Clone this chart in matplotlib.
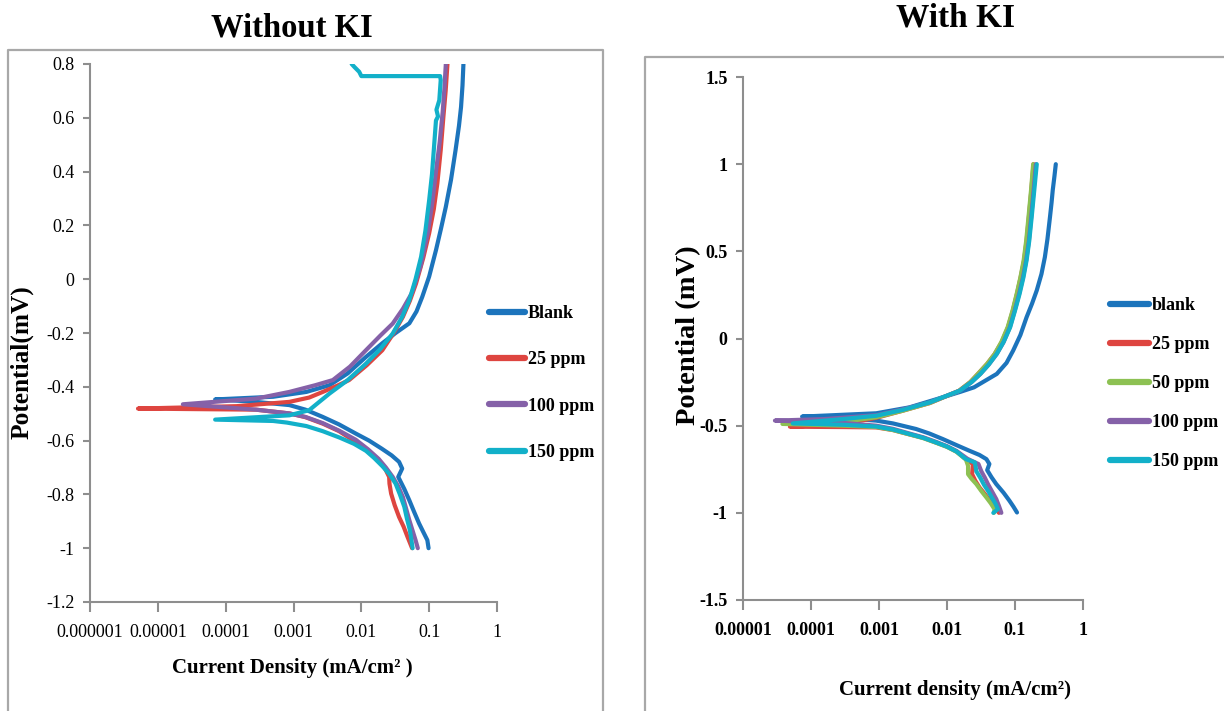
import numpy as np
import matplotlib
matplotlib.use("Agg")
import matplotlib.pyplot as plt
from matplotlib.lines import Line2D

# ---------------- data: Without KI (current mA/cm2, potential) ----------------
left_labels = ["Blank", "25 ppm", "100 ppm", "150 ppm"]

l_blank_i = [0.098, 0.094, 0.082, 0.071, 0.060, 0.051, 0.043, 0.035, 0.040, 0.036, 0.028, 0.020, 0.013, 0.0083,
             0.0047, 0.0027, 0.0015, 0.00087, 0.00025, 0.00007,
             0.0005, 0.00155, 0.0034, 0.0063, 0.0117, 0.0204, 0.032, 0.051, 0.065, 0.079, 0.100, 0.126, 0.150,
             0.176, 0.21, 0.245, 0.275, 0.295, 0.31, 0.32]
l_blank_E = [-1.0, -0.97, -0.94, -0.908, -0.865, -0.822, -0.78, -0.735, -0.704, -0.679, -0.655, -0.63, -0.60, -0.574,
             -0.54, -0.512, -0.485, -0.468, -0.455, -0.447,
             -0.437, -0.419, -0.394, -0.35, -0.289, -0.238, -0.2, -0.164, -0.12, -0.066, 0.01, 0.108, 0.19,
             0.269, 0.37, 0.48, 0.57, 0.64, 0.72, 0.80]

l_25_i = [0.056, 0.048, 0.042, 0.036, 0.031, 0.0275, 0.026, 0.0257, 0.022, 0.018, 0.013, 0.0083, 0.0047, 0.0027,
          0.0015, 0.00087, 0.00028, 0.0000051,
          0.000145, 0.00087, 0.0017, 0.0027, 0.0045, 0.0066, 0.012, 0.0204, 0.030, 0.041, 0.052, 0.064, 0.082,
          0.10, 0.117, 0.132, 0.148, 0.162, 0.175, 0.186]
l_25_E = [-1.0, -0.958, -0.92, -0.884, -0.84, -0.797, -0.76, -0.735, -0.70, -0.673, -0.64, -0.605, -0.565, -0.537,
          -0.513, -0.499, -0.485, -0.481,
          -0.472, -0.456, -0.44, -0.419, -0.395, -0.375, -0.32, -0.264, -0.2, -0.14, -0.08, -0.016, 0.08,
          0.171, 0.26, 0.356, 0.48, 0.603, 0.70, 0.80]

l_100_i = [0.068, 0.063, 0.057, 0.051, 0.046, 0.041, 0.035, 0.029, 0.023, 0.018, 0.0125, 0.0083, 0.0047, 0.0027,
           0.0015, 0.00087, 0.00028, 0.0000234,
           0.00028, 0.00087, 0.0021, 0.0038, 0.0068, 0.0117, 0.019, 0.029, 0.041, 0.056, 0.075, 0.095, 0.112,
           0.126, 0.143, 0.158, 0.168, 0.176]
l_100_E = [-1.0, -0.97, -0.935, -0.896, -0.855, -0.81, -0.77, -0.735, -0.70, -0.668, -0.632, -0.597, -0.563, -0.535,
           -0.512, -0.499, -0.485, -0.465,
           -0.444, -0.419, -0.394, -0.375, -0.325, -0.264, -0.21, -0.165, -0.11, -0.05, 0.05, 0.17, 0.29,
           0.40, 0.51, 0.62, 0.71, 0.80]

l_150_i = [0.057, 0.052, 0.047, 0.043, 0.037, 0.032, 0.026, 0.0204, 0.0155, 0.0117, 0.0078, 0.0048, 0.0027,
           0.00155, 0.0008, 0.0005, 0.00007,
           0.00087, 0.0017, 0.0024, 0.0034, 0.0063, 0.0117, 0.019, 0.029, 0.040, 0.051, 0.063, 0.076, 0.088,
           0.10, 0.11, 0.117, 0.126, 0.135, 0.128, 0.141, 0.148, 0.145, 0.010, 0.0093, 0.0079, 0.0072]
l_150_E = [-1.0, -0.933, -0.89, -0.846, -0.80, -0.76, -0.725, -0.695, -0.665, -0.638, -0.612, -0.589, -0.565,
           -0.546, -0.533, -0.527, -0.522,
           -0.506, -0.487, -0.456, -0.425, -0.375, -0.314, -0.26, -0.202, -0.14, -0.078, 0.0, 0.083, 0.18,
           0.294, 0.39, 0.48, 0.59, 0.605, 0.63, 0.665, 0.74, 0.755, 0.755, 0.771, 0.789, 0.80]

# ---------------- data: With KI ----------------
right_labels = ["blank", "25 ppm", "50 ppm", "100 ppm", "150 ppm"]

r_blank_i = [0.107, 0.095, 0.083, 0.068, 0.053, 0.045, 0.039, 0.042, 0.038, 0.030, 0.0214, 0.0135, 0.0087, 0.0055,
             0.0035, 0.0016, 0.00091, 0.0003, 0.000074,
             0.00091, 0.0028, 0.0087, 0.016, 0.025, 0.054, 0.075, 0.094, 0.12, 0.148, 0.178, 0.209, 0.245,
             0.275, 0.30, 0.327, 0.345, 0.359, 0.38, 0.398]
r_blank_E = [-0.998, -0.965, -0.931, -0.885, -0.835, -0.795, -0.755, -0.72, -0.692, -0.668, -0.644, -0.61, -0.577,
             -0.545, -0.519, -0.487, -0.471, -0.458, -0.448,
             -0.429, -0.395, -0.337, -0.305, -0.28, -0.203, -0.14, -0.069, 0.02, 0.122, 0.2, 0.276, 0.37,
             0.467, 0.57, 0.697, 0.78, 0.851, 0.93, 1.0]

r_25_i = [0.058, 0.050, 0.043, 0.036, 0.030, 0.026, 0.0234, 0.024, 0.019, 0.0138, 0.010, 0.0069, 0.0045, 0.0028,
          0.0016, 0.00091, 0.0003, 0.000049,
          0.0003, 0.00091, 0.0022, 0.0056, 0.015, 0.022, 0.029, 0.039, 0.050, 0.064, 0.079, 0.093, 0.107,
          0.121, 0.136, 0.148, 0.160, 0.174, 0.187]
r_25_E = [-1.0, -0.965, -0.931, -0.892, -0.854, -0.815, -0.778, -0.72, -0.692, -0.648, -0.62, -0.597, -0.57, -0.55,
          -0.525, -0.51, -0.508, -0.506,
          -0.49, -0.455, -0.415, -0.37, -0.3, -0.25, -0.2, -0.145, -0.09, -0.02, 0.065, 0.16, 0.257,
          0.35, 0.448, 0.56, 0.697, 0.85, 1.0]

r_50_i = [0.049, 0.050, 0.044, 0.038, 0.032, 0.027, 0.023, 0.0204, 0.0204, 0.019, 0.0138, 0.010, 0.0069, 0.0045,
          0.0028, 0.0016, 0.00091, 0.0003, 0.000038,
          0.0003, 0.00091, 0.0022, 0.0056, 0.015, 0.022, 0.029, 0.039, 0.050, 0.063, 0.078, 0.092, 0.106,
          0.120, 0.134, 0.146, 0.158, 0.172, 0.185]
r_50_E = [-1.0, -0.979, -0.945, -0.912, -0.875, -0.835, -0.805, -0.778, -0.73, -0.695, -0.65, -0.622, -0.598, -0.572,
          -0.55, -0.525, -0.508, -0.50, -0.49,
          -0.478, -0.452, -0.415, -0.37, -0.3, -0.25, -0.2, -0.145, -0.09, -0.02, 0.065, 0.16, 0.257,
          0.35, 0.448, 0.56, 0.697, 0.85, 1.0]

r_100_i = [0.063, 0.058, 0.053, 0.046, 0.040, 0.036, 0.032, 0.029, 0.020, 0.0138, 0.010, 0.0069, 0.0045, 0.0028,
           0.0016, 0.00091, 0.00032, 0.0000295,
           0.00016, 0.00091, 0.0022, 0.0056, 0.0155, 0.023, 0.031, 0.041, 0.054, 0.068, 0.084, 0.099, 0.115,
           0.131, 0.146, 0.160, 0.173, 0.188, 0.203]
r_100_E = [-1.0, -0.96, -0.921, -0.878, -0.835, -0.798, -0.762, -0.72, -0.69, -0.645, -0.618, -0.593, -0.567, -0.545,
           -0.518, -0.50, -0.485, -0.471,
           -0.462, -0.44, -0.407, -0.366, -0.299, -0.25, -0.203, -0.15, -0.088, -0.02, 0.065, 0.16, 0.257,
           0.35, 0.448, 0.56, 0.697, 0.85, 1.0]

r_150_i = [0.048, 0.056, 0.052, 0.047, 0.041, 0.035, 0.031, 0.027, 0.0257, 0.019, 0.0138, 0.010, 0.0069, 0.0045,
           0.0028, 0.0016, 0.00091, 0.0003, 0.000054,
           0.0003, 0.00091, 0.0022, 0.0056, 0.0155, 0.023, 0.031, 0.041, 0.054, 0.068, 0.085, 0.100, 0.117,
           0.133, 0.148, 0.162, 0.176, 0.192, 0.209]
r_150_E = [-1.0, -0.979, -0.95, -0.921, -0.88, -0.839, -0.80, -0.762, -0.711, -0.692, -0.648, -0.62, -0.596, -0.57,
           -0.548, -0.522, -0.505, -0.495, -0.487,
           -0.462, -0.443, -0.41, -0.366, -0.299, -0.25, -0.203, -0.15, -0.088, -0.02, 0.065, 0.16, 0.257,
           0.35, 0.448, 0.56, 0.697, 0.85, 1.0]

left_xticks = [1e-6, 1e-5, 1e-4, 1e-3, 1e-2, 1e-1, 1]
left_xticklabels = ["0.000001", "0.00001", "0.0001", "0.001", "0.01", "0.1", "1"]
left_yticks = [0.8, 0.6, 0.4, 0.2, 0, -0.2, -0.4, -0.6, -0.8, -1, -1.2]
left_yticklabels = ["0.8", "0.6", "0.4", "0.2", "0", "-0.2", "-0.4", "-0.6", "-0.8", "-1", "-1.2"]

right_xticks = [1e-5, 1e-4, 1e-3, 1e-2, 1e-1, 1]
right_xticklabels = ["0.00001", "0.0001", "0.001", "0.01", "0.1", "1"]
right_yticks = [1.5, 1, 0.5, 0, -0.5, -1, -1.5]
right_yticklabels = ["1.5", "1", "0.5", "0", "-0.5", "-1", "-1.5"]

# ---------------- style ----------------
C_BLUE = "#1c74bc"
C_RED = "#de4540"
C_GREEN = "#8dc153"
C_PURPLE = "#8561a8"
C_CYAN = "#12b0c9"
GRAY = "#8e8e8e"
SERIF = "Liberation Serif"

W, H = 1224, 711
fig = plt.figure(figsize=(W / 100, H / 100), dpi=100)
fig.patch.set_facecolor("white")


def fx(px):
    return px / W


def fy(py):
    return 1 - py / H


# panel frames
fig.add_artist(Line2D([fx(8), fx(8), fx(603), fx(603)], [0, fy(50), fy(50), 0],
                      color="#a8a8a8", lw=1.6, transform=fig.transFigure))
fig.add_artist(Line2D([fx(645), fx(645), 1.0], [0, fy(57), fy(57)],
                      color="#a8a8a8", lw=1.6, transform=fig.transFigure))

axL = fig.add_axes([fx(90), fy(602), fx(497) - fx(90), fy(64) - fy(602)])
axR = fig.add_axes([fx(743), fy(600), fx(1083) - fx(743), fy(77) - fy(600)])

lw = 3.0
kw = dict(lw=lw, solid_capstyle="round", solid_joinstyle="round")
axL.plot(l_blank_i, l_blank_E, color=C_BLUE, label=left_labels[0], **kw)
axL.plot(l_25_i, l_25_E, color=C_RED, label=left_labels[1], **kw)
axL.plot(l_100_i, l_100_E, color=C_PURPLE, label=left_labels[2], **kw)
axL.plot(l_150_i, l_150_E, color=C_CYAN, label=left_labels[3], **kw)

axR.plot(r_blank_i, r_blank_E, color=C_BLUE, label=right_labels[0], **kw)
axR.plot(r_25_i, r_25_E, color=C_RED, label=right_labels[1], **kw)
axR.plot(r_50_i, r_50_E, color=C_GREEN, label=right_labels[2], **kw)
axR.plot(r_100_i, r_100_E, color=C_PURPLE, label=right_labels[3], **kw)
axR.plot(r_150_i, r_150_E, color=C_CYAN, label=right_labels[4], **kw)

for ax, xt, xtl, yt, ytl, xlim, ylim, bold in [
        (axL, left_xticks, left_xticklabels, left_yticks, left_yticklabels, (1e-6, 1), (-1.2, 0.8), "normal"),
        (axR, right_xticks, right_xticklabels, right_yticks, right_yticklabels, (1e-5, 1), (-1.5, 1.5), "bold")]:
    ax.set_xscale("log")
    ax.set_xlim(*xlim)
    ax.set_ylim(*ylim)
    ax.set_xticks(xt)
    ax.set_xticklabels(xtl)
    ax.minorticks_off()
    ax.set_yticks(yt)
    ax.set_yticklabels(ytl)
    for s in ["top", "right"]:
        ax.spines[s].set_visible(False)
    for s in ["left", "bottom"]:
        ax.spines[s].set_color(GRAY)
        ax.spines[s].set_linewidth(1.5)
    ax.tick_params(axis="both", direction="out", color=GRAY, width=1.5)
    ax.tick_params(axis="x", length=7, pad=9)
    ax.tick_params(axis="y", length=5, pad=6)
    for t in ax.get_xticklabels() + ax.get_yticklabels():
        t.set_family(SERIF)
        t.set_fontsize(13)
        t.set_fontweight(bold)
    ax.patch.set_alpha(0)

legL = axL.legend(loc="center left", bbox_to_anchor=(fx(489), fy(383)), bbox_transform=fig.transFigure,
                  frameon=False, prop={"family": SERIF, "weight": "bold", "size": 13},
                  handlelength=2.0, handletextpad=0.15, labelspacing=1.62, borderpad=0, borderaxespad=0)
legR = axR.legend(loc="center left", bbox_to_anchor=(fx(1110), fy(383.5)), bbox_transform=fig.transFigure,
                  frameon=False, prop={"family": SERIF, "weight": "bold", "size": 13},
                  handlelength=2.15, handletextpad=0.15, labelspacing=1.22, borderpad=0, borderaxespad=0)
for leg in (legL, legR):
    for h in leg.get_lines():
        h.set_linewidth(4.5)
        h.set_solid_capstyle("round")

# titles and axis titles
fig.text(fx(292), fy(28), "Without KI", ha="center", va="center", family=SERIF, weight="bold", fontsize=23.5)
fig.text(fx(956), fy(18), "With KI", ha="center", va="center", family=SERIF, weight="bold", fontsize=24)
fig.text(fx(22), fy(362), "Potential(mV)", ha="center", va="center", rotation=90, family=SERIF,
         weight="bold", fontsize=18.3)
fig.text(fx(689), fy(335), "Potential (mV)", ha="center", va="center", rotation=90, family=SERIF,
         weight="bold", fontsize=20.5)
fig.text(fx(292), fy(668), "Current Density (mA/cm² )", ha="center", va="center", family=SERIF,
         weight="bold", fontsize=15)
fig.text(fx(955), fy(690), "Current density (mA/cm²)", ha="center", va="center", family=SERIF,
         weight="bold", fontsize=15)

fig.savefig("out.png", dpi=100, facecolor="white")
